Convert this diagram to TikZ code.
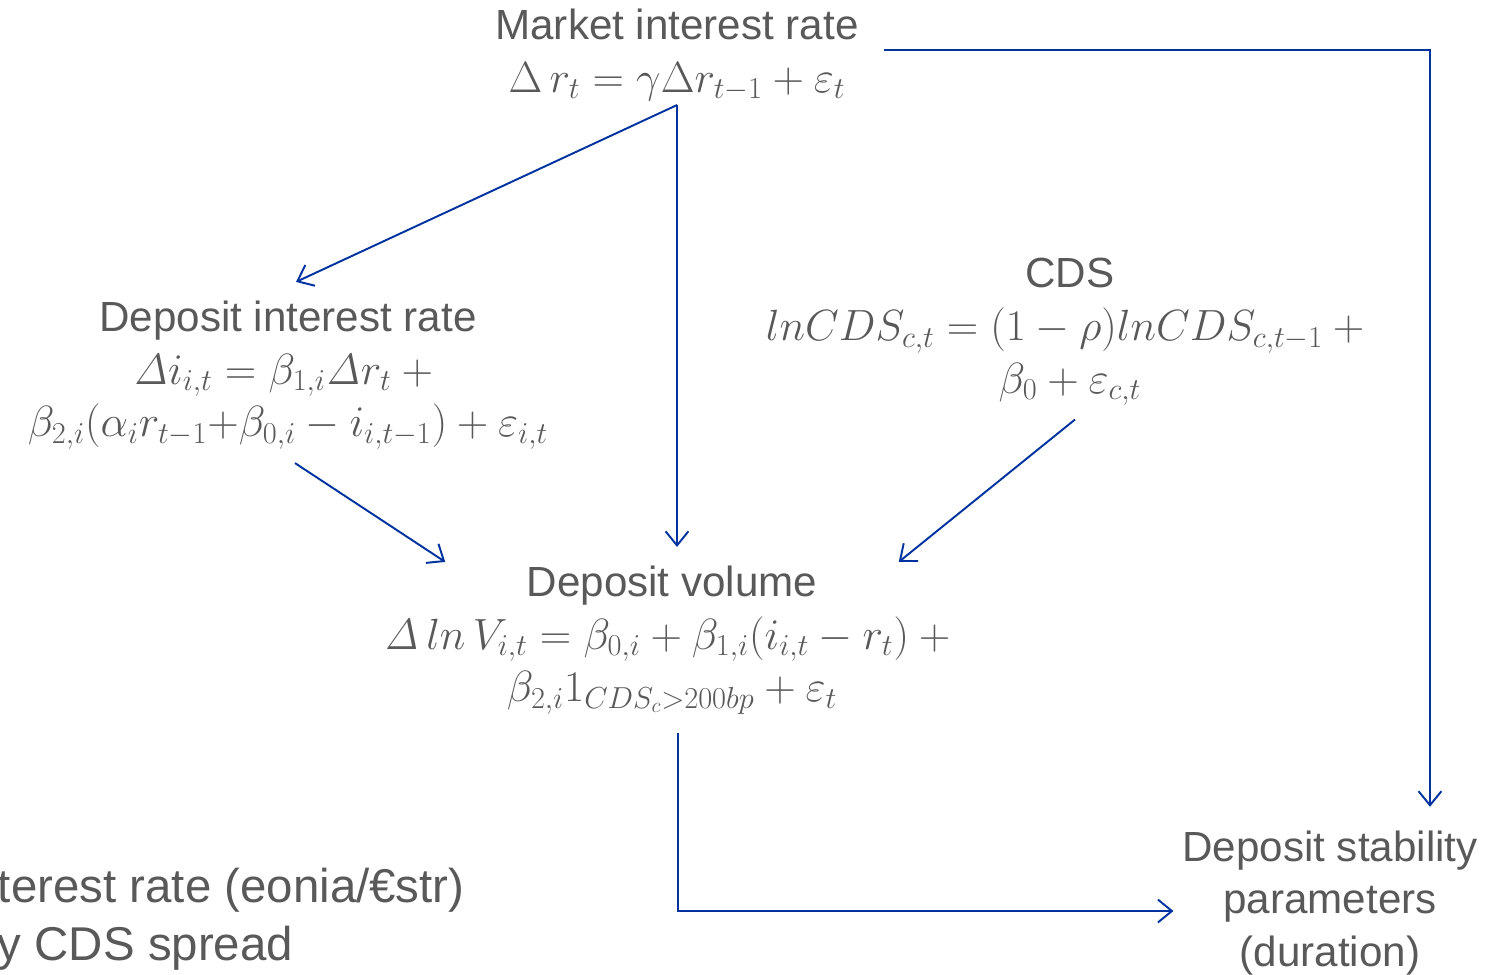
\documentclass[tikz,border=0pt]{standalone}
\usepackage[no-math]{fontspec}
\setmainfont{Liberation Sans}
\usepackage{tikz}
\usetikzlibrary{arrows.meta}
\definecolor{txtgray}{HTML}{595959}
\definecolor{flowblue}{HTML}{0033A0}
\NewDocumentCommand{\dlt}{}{\mathit{\Delta}}
\NewDocumentCommand{\eps}{}{\varepsilon}
\tikzset{/DEP/S/eq/.style={
	align=center, text=txtgray, inner sep=2pt,
	font=\fontsize{24}{30}\selectfont
}}
\tikzset{/DEP/S/flow/.style={
	draw=flowblue, line width=1.1pt,
	-{Straight Barb[length=8pt,width=13pt]}
}}

\begin{document}
\begin{tikzpicture}[x=0.02cm, y=-0.02cm]
			\useasboundingbox (0,0) rectangle (1497,974);
			\path (677,55) node[/DEP/S/eq] (market) {Market interest rate\\%
				$\Delta\, r_t = \gamma\Delta r_{t-1} + \eps_t$};
			\path (288,375) node[/DEP/S/eq] (dir) {Deposit interest rate\\%
				$\dlt i_{i,t} = \beta_{1,i}\dlt r_t + {}$\\%
				$\beta_{2,i}(\alpha_i r_{t-1}{+}\beta_{0,i} - i_{i,t-1}) + \eps_{i,t}$};
			\path (1070,332) node[/DEP/S/eq] (cds) {CDS\\%
				$lnCDS_{c,t} = (1-\rho)lnCDS_{c,t-1} + {}$\\%
				$\beta_0 + \eps_{c,t}$};
			\path (672,640) node[/DEP/S/eq] (vol) {Deposit volume\\%
				$\dlt\, ln\, V_{i,t} = \beta_{0,i} + \beta_{1,i}\bigl(i_{i,t} - r_t\bigr) + {}$\\%
				$\beta_{2,i} 1_{CDS_c > 200bp} + \eps_t$};
			\path (1330,903) node[/DEP/S/eq] (stab) {Deposit stability\\parameters\\(duration)};
			\path (-6,919) node[/DEP/S/eq, align=left, anchor=west,
				font=\fontsize{27}{33}\selectfont] (note) {terest rate (eonia/€str)\\y CDS spread};
			% links between the equations
			\draw[/DEP/S/flow] (market.south) -- ([shift={(0.16cm,0.3cm)}]dir.north);
			\draw[/DEP/S/flow, shorten >=0.3cm] (market.south) -- (market.south |- vol.north);
			\draw[/DEP/S/flow] ([shift={(0.14cm,-0.2cm)}]dir.south) -- (vol.161);
			\draw[/DEP/S/flow] ([shift={(0.1cm,-0.2cm)}]cds.south) -- (vol.19.2);
			\draw[/DEP/S/flow] ([shift={(0.44cm,0.1cm)}]market.east) -| ([xshift=2cm, yshift=0.4cm]stab.north);
			\draw[/DEP/S/flow] ([shift={(0.12cm,-0.3cm)}]vol.south) |- ([shift={(-0.1cm,-0.16cm)}]stab.west);
\end{tikzpicture}
\end{document}
